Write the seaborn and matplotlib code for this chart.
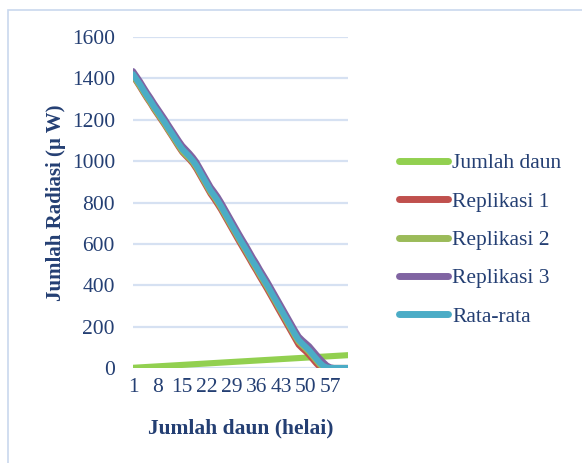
import pandas as pd
import matplotlib.pyplot as plt
import seaborn as sns
from matplotlib.patches import Rectangle

sns.set_theme(style="white")
plt.rcParams['font.family'] = ['Liberation Serif', 'DejaVu Serif']
plt.rcParams['lines.solid_capstyle'] = 'round'
plt.rcParams['lines.solid_joinstyle'] = 'round'

# === data ===
jumlah_daun = [
    1, 2, 3, 4, 5, 6, 7, 8, 9, 10,
    11, 12, 13, 14, 15, 16, 17, 18, 19, 20,
    21, 22, 23, 24, 25, 26, 27, 28, 29, 30,
    31, 32, 33, 34, 35, 36, 37, 38, 39, 40,
    41, 42, 43, 44, 45, 46, 47, 48, 49, 50,
    51, 52, 53, 54, 55, 56, 57, 58, 59, 60,
    61, 62,
]
replikasi_1 = [
    1410, 1385, 1358, 1330, 1303, 1278, 1250, 1225, 1200, 1175,
    1148, 1122, 1095, 1068, 1043, 1025, 1008, 988, 962, 932,
    902, 872, 842, 818, 792, 765, 735, 705, 675, 645,
    615, 586, 557, 528, 498, 470, 440, 412, 383, 353,
    323, 292, 262, 232, 202, 172, 142, 112, 95, 80,
    62, 42, 22, 5, 0, 0, 0, 0, 0, 0,
    0, 0,
]
replikasi_2 = [
    1415, 1388, 1362, 1335, 1308, 1282, 1255, 1230, 1205, 1180,
    1152, 1127, 1100, 1074, 1048, 1030, 1014, 995, 970, 940,
    910, 880, 850, 828, 802, 774, 744, 714, 684, 655,
    625, 596, 568, 538, 508, 480, 450, 422, 394, 364,
    334, 304, 274, 244, 214, 184, 154, 127, 110, 94,
    77, 57, 37, 17, 4, 0, 0, 0, 0, 0,
    0, 0,
]
replikasi_3 = [
    1435, 1410, 1385, 1357, 1330, 1305, 1278, 1253, 1228, 1203,
    1176, 1150, 1124, 1098, 1074, 1056, 1038, 1018, 995, 965,
    935, 905, 875, 852, 828, 800, 770, 740, 710, 680,
    650, 621, 593, 563, 533, 506, 476, 448, 420, 390,
    360, 330, 300, 270, 240, 210, 180, 152, 135, 120,
    105, 85, 65, 45, 28, 12, 3, 0, 0, 0,
    0, 0,
]
rata_rata = [
    1420, 1395, 1370, 1342, 1315, 1290, 1262, 1238, 1212, 1188,
    1160, 1135, 1108, 1082, 1058, 1040, 1022, 1002, 978, 948,
    918, 888, 858, 835, 810, 782, 752, 722, 692, 662,
    632, 603, 575, 545, 515, 488, 458, 430, 402, 372,
    342, 312, 282, 252, 222, 192, 162, 135, 118, 102,
    85, 65, 45, 25, 10, 2, 0, 0, 0, 0,
    0, 0,
]
series_names = ['Jumlah daun', 'Replikasi 1', 'Replikasi 2', 'Replikasi 3', 'Rata-rata']
colors = ['#92D050', '#C0504D', '#9BBB59', '#8064A2', '#4BACC6']
x_ticks = [1, 8, 15, 22, 29, 36, 43, 50, 57]
y_ticks = [0, 200, 400, 600, 800, 1000, 1200, 1400, 1600]

text_color = '#243F73'
grid_color = '#D6E1F2'
fs = 15.5

# long-form table for seaborn
values = [jumlah_daun, replikasi_1, replikasi_2, replikasi_3, rata_rata]
frames = []
for name, vals in zip(series_names, values):
    frames.append(pd.DataFrame({'daun': jumlah_daun, 'nilai': vals, 'seri': name}))
df = pd.concat(frames, ignore_index=True)

fig = plt.figure(figsize=(5.82, 4.63), dpi=100)
ax = fig.add_axes([133 / 582, 1 - 368 / 463, (348 - 133) / 582, (368 - 37) / 463])

sns.lineplot(data=df, x='daun', y='nilai', hue='seri', hue_order=series_names,
             palette=colors, linewidth=4.4, ax=ax, legend=True)

ax.set_xlim(1, 62)
ax.set_ylim(0, 1600)
ax.set_xticks(x_ticks)
ax.set_yticks(y_ticks)
ax.yaxis.grid(True, color=grid_color, linewidth=1.6)
ax.set_axisbelow(True)
for s in ax.spines.values():
    s.set_visible(False)
ax.tick_params(axis='both', length=0, labelsize=fs, colors=text_color)
ax.tick_params(axis='y', pad=13)
ax.tick_params(axis='x', pad=7)
ax.set_xlabel('Jumlah daun (helai)', fontsize=fs, fontweight='bold', color=text_color, labelpad=16)
ax.set_ylabel('Jumlah Radiasi (µ W)', fontsize=15, fontweight='bold', color=text_color, labelpad=4)

handles, labels = ax.get_legend_handles_labels()
ax.get_legend().remove()
for h in handles:
    h.set_linewidth(5)
    h.set_solid_capstyle('round')
leg = fig.legend(handles, labels, loc='center left', bbox_to_anchor=(390 / 582, 1 - 240 / 463),
                 frameon=False, fontsize=fs, handlelength=2.3, handletextpad=0.2,
                 labelspacing=0.85, borderaxespad=0)
for t in leg.get_texts():
    t.set_color(text_color)

# chart area border
fig.patches.append(Rectangle((8 / 582, -0.05), 1.0, 1 - 10 / 463 + 0.05, transform=fig.transFigure,
                             fill=False, edgecolor='#C9D8EE', linewidth=1.2))

fig.savefig('out.png', dpi=100)
